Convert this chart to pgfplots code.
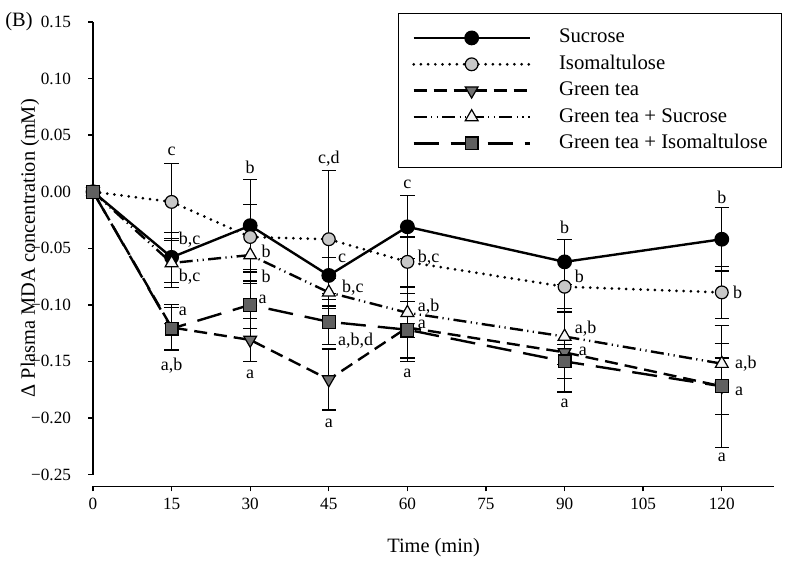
\documentclass[border=0pt]{standalone}
\usepackage{fontspec}
\setmainfont{Liberation Serif}
\usepackage{pgfplots}
\usepackage{pgfplotstable}
\pgfplotsset{compat=1.18}
\definecolor{isogrey}{RGB}{200,200,200}
\definecolor{gtgrey}{RGB}{112,112,112}
\definecolor{sqgrey}{RGB}{96,96,96}
\definecolor{trwhite}{RGB}{245,245,245}

% t = time (min), y = change in MDA (mM), e = error
\pgfplotstableread{
t y e
0 0 0
15 -0.058 0.022
30 -0.030 0.041
45 -0.074 0.016
60 -0.031 0.028
90 -0.062 0.020
120 -0.042 0.028
}\sucrose
\pgfplotstableread{
t y e
0 0 0
15 -0.009 0.034
30 -0.040 0.029
45 -0.042 0.061
60 -0.062 0.022
90 -0.084 0.022
120 -0.089 0.023
}\isomalt
\pgfplotstableread{
t y e
0 0 0
15 -0.120 0.020
30 -0.131 0.019
45 -0.166 0.027
60 -0.120 0.030
90 -0.142 0.035
120 -0.172 0.054
}\greentea
\pgfplotstableread{
t y e
0 0 0
15 -0.063 0.022
30 -0.056 0.025
45 -0.089 0.012
60 -0.107 0.022
90 -0.128 0.025
120 -0.152 0.018
}\gtsuc
\pgfplotstableread{
t y e
0 0 0
15 -0.121 0.019
30 -0.100 0.021
45 -0.115 0.020
60 -0.122 0.025
90 -0.150 0.015
120 -0.172 0.025
}\gtiso

\pgfplotsset{
  errbars/.style={forget plot, draw=none, mark=none, skip coords between index={0}{1},
    error bars/.cd, y dir=both, y explicit,
    error bar style={draw=black, line width=0.6pt, solid},
    error mark options={rotate=90, draw=black, line width=0.6pt, mark size=3.6pt, solid}},
}
\tikzset{lab/.style={font=\fontsize{9}{10}\selectfont, inner sep=0pt, text height=6pt, text depth=0pt}}

\begin{document}
\begin{tikzpicture}
\begin{axis}[
  scale only axis,
  width=341pt, height=226.5pt,
  xmin=0, xmax=130, ymin=-0.25, ymax=0.15,
  axis x line*=bottom, axis y line*=left,
  axis x line shift=6pt,
  axis line style={line width=0.7pt, -},
  tick align=outside, major tick length=2.5pt,
  tick style={line width=0.7pt, black},
  xtick={0,15,30,45,60,75,90,105,120},
  xticklabels={0,15,30,45,60,75,90,105,120},
  ytick={-0.25,-0.20,-0.15,-0.10,-0.05,0,0.05,0.10,0.15},
  yticklabels={−0.25,−0.20,−0.15,−0.10,−0.05,0.00,0.05,0.10,0.15},
  tick label style={font=\fontsize{8.6}{10}\selectfont},
  yticklabel style={xshift=-5pt},
  xlabel={Time (min)},
  ylabel={Δ Plasma MDA concentration (mM)},
  label style={font=\fontsize{10.2}{12}\selectfont},
  xlabel style={at={(axis description cs:0.5,-0.161)}, anchor=center},
  ylabel style={at={(axis description cs:-0.0924,0.5)}, anchor=center},
  clip=false,
  legend cell align=left,
  legend image code/.code={\draw[mark repeat=2, mark phase=2] plot coordinates {(0pt,0pt) (29pt,0pt) (58pt,0pt)};},
  legend style={at={(1.0117,1.0199)}, anchor=north east, draw=black, line width=0.7pt,
    font=\fontsize{10.4}{12}\selectfont, inner xsep=7pt, inner ysep=6.5pt, row sep=2pt,
    nodes={inner xsep=0pt, inner ysep=1.1pt, text height=7pt, text depth=2pt},
    /tikz/every odd column/.append style={column sep=14pt}},
]
\addplot[black, line width=1.2pt, mark=*, mark size=3.1pt, mark options={solid, fill=black}]
  table[x=t, y=y] {\sucrose};
\addlegendentry{Sucrose}
\addplot[black, line width=1.5pt, line cap=round, dash pattern=on 0pt off 3.6pt,
  mark=*, mark size=3.2pt, mark options={solid, fill=isogrey, line width=0.6pt}]
  table[x=t, y=y] {\isomalt};
\addlegendentry{Isomaltulose}
\addplot[black, line width=1.2pt, dash pattern=on 6.5pt off 3.5pt,
  mark=triangle*, mark size=3.7pt, mark options={solid, rotate=180, fill=gtgrey, line width=0.6pt}]
  table[x=t, y=y] {\greentea};
\addlegendentry{Green tea}
\addplot[black, line width=1.2pt, dash pattern=on 6.5pt off 2.2pt on 0.6pt off 2.2pt on 0.6pt off 2.2pt,
  mark=triangle*, mark size=3.7pt, mark options={solid, fill=trwhite, line width=0.6pt}]
  table[x=t, y=y] {\gtsuc};
\addlegendentry{Green tea + Sucrose}
\addplot[black, line width=1.2pt, dash pattern=on 12.5pt off 6pt,
  mark=square*, mark size=3.2pt, mark options={solid, fill=sqgrey, line width=0.6pt}]
  table[x=t, y=y] {\gtiso};
\addlegendentry{Green tea + Isomaltulose}

\addplot[errbars] table[x=t, y=y, y error=e] {\sucrose};
\addplot[errbars] table[x=t, y=y, y error=e] {\isomalt};
\addplot[errbars] table[x=t, y=y, y error=e] {\greentea};
\addplot[errbars] table[x=t, y=y, y error=e] {\gtsuc};
\addplot[errbars] table[x=t, y=y, y error=e] {\gtiso};

% letters of the statistical groups
\node[lab] at (axis cs:15,0.0371) {c};
\node[lab, anchor=west, xshift=3.5pt] at (axis cs:15,-0.0415) {b,c};
\node[lab, anchor=west, xshift=3.5pt] at (axis cs:15,-0.0742) {b,c};
\node[lab, anchor=west, xshift=3.5pt] at (axis cs:15,-0.1042) {a};
\node[lab] at (axis cs:15,-0.1528) {a,b};

\node[lab] at (axis cs:30,0.0212) {b};
\node[lab, anchor=west, xshift=5.5pt] at (axis cs:30,-0.053) {b};
\node[lab, anchor=west, xshift=5.5pt] at (axis cs:30,-0.075) {b};
\node[lab, anchor=west, xshift=4pt] at (axis cs:30,-0.0936) {a};
\node[lab] at (axis cs:30,-0.1598) {a};

\node[lab] at (axis cs:45,0.030) {c,d};
\node[lab, anchor=west, xshift=4.5pt] at (axis cs:45,-0.0574) {c};
\node[lab, anchor=west, xshift=6.5pt] at (axis cs:45,-0.0839) {b,c};
\node[lab, anchor=west, xshift=4.5pt] at (axis cs:45,-0.1307) {a,b,d};
\node[lab] at (axis cs:45,-0.2031) {a};

\node[lab] at (axis cs:60,0.0079) {c};
\node[lab, anchor=west, xshift=5pt] at (axis cs:60,-0.0574) {b,c};
\node[lab, anchor=west, xshift=5pt] at (axis cs:60,-0.1007) {a,b};
\node[lab, anchor=west, xshift=5pt] at (axis cs:60,-0.1157) {a};
\node[lab] at (axis cs:60,-0.159) {a};

\node[lab] at (axis cs:90,-0.0318) {b};
\node[lab, anchor=west, xshift=5pt] at (axis cs:90,-0.0751) {b};
\node[lab, anchor=west, xshift=5pt] at (axis cs:90,-0.1201) {a,b};
\node[lab, anchor=west, xshift=7pt] at (axis cs:90,-0.1395) {a};
\node[lab] at (axis cs:90,-0.1854) {a};

\node[lab] at (axis cs:120,-0.0053) {b};
\node[lab, anchor=west, xshift=5.5pt] at (axis cs:120,-0.0892) {b};
\node[lab, anchor=west, xshift=6.5pt] at (axis cs:120,-0.151) {a,b};
\node[lab, anchor=west, xshift=6.5pt] at (axis cs:120,-0.1748) {a};
\node[lab] at (axis cs:120,-0.2331) {a};

\node[anchor=west, inner sep=0pt, font=\fontsize{10.2}{12}\selectfont] at (axis cs:-16.8,0.150) {(B)};

\coordinate (bbA) at (axis cs:-17.75,0.1695);
\coordinate (bbB) at (axis cs:133.02,-0.3329);
\end{axis}
\pgfresetboundingbox
\path[use as bounding box] (bbA) rectangle (bbB);
\end{tikzpicture}
\end{document}
